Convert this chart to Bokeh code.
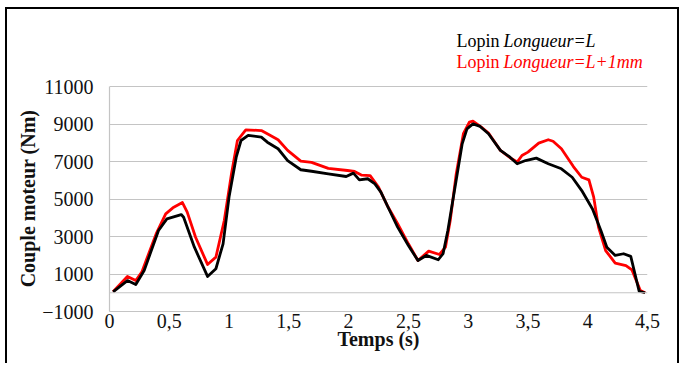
from bokeh.plotting import figure
from bokeh.models import FixedTicker, CustomJSTickFormatter, Span, Label, Range1d
from bokeh.embed import file_html
from bokeh.resources import INLINE

# Temps (s) / Couple moteur (Nm)
t_L = [0.03, 0.15, 0.22, 0.29, 0.41, 0.48, 0.6, 0.62, 0.71, 0.82, 0.89, 0.95, 1.0, 1.06, 1.1,
       1.16, 1.27, 1.32, 1.41, 1.49, 1.6, 1.69, 1.83, 1.98, 2.04, 2.09, 2.16, 2.22, 2.27, 2.33,
       2.41, 2.5, 2.58, 2.65, 2.75, 2.79, 2.83, 2.89, 2.95, 2.99, 3.04, 3.1, 3.17, 3.27, 3.35,
       3.41, 3.48, 3.57, 3.67, 3.78, 3.87, 3.95, 4.04, 4.11, 4.16, 4.23, 4.3, 4.36, 4.43, 4.48]
c_L = [50, 650, 440, 1190, 3320, 3940, 4170, 4030, 2430, 870, 1280, 2610, 5100, 7230, 8120,
       8390, 8300, 8030, 7680, 7050, 6560, 6480, 6340, 6200, 6380, 6020, 6080, 5810, 5370, 4560,
       3500, 2520, 1720, 1990, 1760, 2080, 3320, 5630, 7940, 8740, 9010, 8870, 8480, 7590, 7230,
       6880, 7050, 7180, 6880, 6610, 6160, 5450, 4470, 3320, 2430, 1990, 2080, 1940, 80, 0]

t_L1 = [0.03, 0.15, 0.22, 0.27, 0.39, 0.47, 0.53, 0.61, 0.65, 0.72, 0.82, 0.89, 0.96, 1.02, 1.07,
        1.14, 1.27, 1.32, 1.41, 1.49, 1.6, 1.69, 1.83, 1.99, 2.05, 2.11, 2.18, 2.25, 2.33, 2.41,
        2.5, 2.58, 2.67, 2.76, 2.81, 2.85, 2.9, 2.96, 3.01, 3.04, 3.11, 3.17, 3.27, 3.35, 3.41,
        3.45, 3.5, 3.59, 3.67, 3.71, 3.78, 3.88, 3.95, 4.01, 4.05, 4.09, 4.15, 4.23, 4.32, 4.37,
        4.44, 4.48]
c_L1 = [50, 870, 650, 1100, 3140, 4210, 4530, 4810, 4300, 2960, 1510, 1900, 3850, 6340, 8120,
        8690, 8650, 8480, 8160, 7590, 7020, 6950, 6630, 6520, 6470, 6270, 6250, 5630, 4570, 3680,
        2610, 1720, 2220, 2040, 2430, 3850, 6340, 8480, 9100, 9150, 8830, 8520, 7590, 7200, 6970,
        7320, 7500, 7980, 8160, 8080, 7680, 6730, 6160, 6020, 5100, 3500, 2250, 1580, 1450, 1220,
        120, 0]

x_ticks = [0, 0.5, 1, 1.5, 2, 2.5, 3, 3.5, 4, 4.5]
y_ticks = [-1000, 1000, 3000, 5000, 7000, 9000, 11000]

legend_plain = ["Lopin", "Lopin"]
legend_ital = ["Longueur=L", "Longueur=L+1mm"]
legend_colors = ["black", "#ff0000"]

FONT = "'Liberation Serif', 'Times New Roman', serif"
GRID = "#c4c4c4"
Y_TOP = 14520  # extra room above the plot area for the legend

p = figure(width=674, height=356, x_range=Range1d(0, 4.5), y_range=Range1d(-1000, Y_TOP),
           output_backend="svg", toolbar_location=None,
           min_border_left=102, min_border_right=34, min_border_top=11, min_border_bottom=54)
p.styles = {"margin-left": "5px", "margin-top": "7px",
            "border-left": "2px solid black", "border-top": "2px solid black",
            "border-right": "2px solid black"}
p.outline_line_color = None
p.background_fill_color = "white"
p.border_fill_color = "white"

p.line(t_L1, c_L1, line_color="#ff0000", line_width=2.8, line_join="round")
p.line(t_L, c_L, line_color="black", line_width=2.8, line_join="round")

p.add_layout(Span(location=0, dimension="width", line_color=GRID, line_width=1.2))

p.xaxis.ticker = FixedTicker(ticks=x_ticks)
p.yaxis.ticker = FixedTicker(ticks=y_ticks)
p.yaxis.bounds = (-1000, 11000)
p.xaxis.formatter = CustomJSTickFormatter(code="return tick.toString().replace('.', ',');")
p.xgrid.grid_line_color = None
p.ygrid.grid_line_color = GRID
p.ygrid.grid_line_width = 1.2

for ax in (p.xaxis, p.yaxis):
    ax.axis_line_color = GRID
    ax.axis_line_width = 1.2
    ax.major_tick_line_color = None
    ax.minor_tick_line_color = None
    ax.major_tick_out = 0
    ax.major_tick_in = 0
    ax.major_label_text_font = FONT
    ax.major_label_text_font_size = "20px"
    ax.major_label_text_color = "#111111"
    ax.axis_label_text_font = FONT
    ax.axis_label_text_font_size = "20px"
    ax.axis_label_text_font_style = "bold"
    ax.axis_label_text_color = "#111111"

p.xaxis.major_label_standoff = 2
p.yaxis.major_label_standoff = 16
p.xaxis.axis_label = "Temps (s)"
# trailing no-break spaces centre the title on the -1000..11000 part of the axis
p.yaxis.axis_label = "Couple moteur (Nm)" + "\u00a0" * 13
p.xaxis.axis_label_standoff = -3
p.yaxis.axis_label_standoff = 0

legend_y = [13450, 12330]
for plain, ital, col, yy in zip(legend_plain, legend_ital, legend_colors, legend_y):
    p.add_layout(Label(x=2.902, y=yy, text=plain, text_font=FONT, text_font_size="18px",
                       text_color=col, text_baseline="middle"))
    p.add_layout(Label(x=3.295, y=yy, text=ital, text_font=FONT, text_font_size="18px",
                       text_font_style="italic", text_color=col, text_baseline="middle"))

open("out.html", "w").write(file_html(p, INLINE))
